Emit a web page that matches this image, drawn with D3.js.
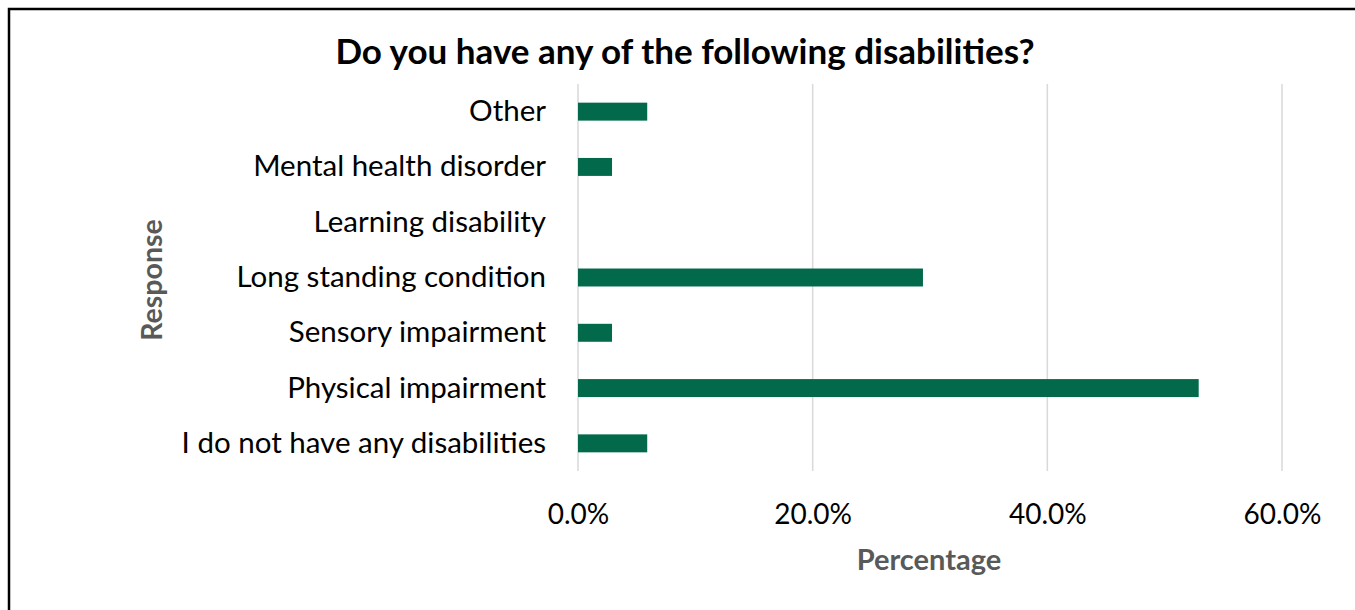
<!DOCTYPE html>
<html>
<head>
<meta charset="utf-8">
<script src="https://cdn.jsdelivr.net/npm/d3@7"></script>
<style>
  body { margin: 0; background: #fff; }
  text { font-family: Lato, "Noto Sans", sans-serif; }
</style>
</head>
<body>
<div id="chart"></div>
<script>
// answers, top row first
var categories = [
  "Other",
  "Mental health disorder",
  "Learning disability",
  "Long standing condition",
  "Sensory impairment",
  "Physical impairment",
  "I do not have any disabilities",
];
var percents = [5.9, 2.9, 0, 29.4, 2.9, 52.9, 5.9];
var x_ticks = [0, 20, 40, 60];

var width = 1355, height = 610;

var svg = d3.select("#chart").append("svg")
  .attr("width", width)
  .attr("height", height);

// outer frame (right and bottom run off the picture)
svg.append("rect")
  .attr("x", 9).attr("y", 9)
  .attr("width", 1360).attr("height", 620)
  .attr("fill", "none").attr("stroke", "#000").attr("stroke-width", 2.5);

var x = d3.scaleLinear().domain([0, 60]).range([578, 1282]);
var y = d3.scaleBand().domain(categories).range([84, 471])
  .paddingInner(0.675).paddingOuter(0.3375);

// gridlines
svg.append("g")
  .selectAll("line")
  .data(x_ticks)
  .enter()
  .append("line")
  .attr("x1", (d) => x(d)).attr("x2", (d) => x(d))
  .attr("y1", 84).attr("y2", 471)
  .attr("stroke", "#d9d9d9").attr("stroke-width", 1.5);

// bars
svg.append("g")
  .selectAll("rect")
  .data(percents)
  .enter()
  .append("rect")
  .attr("x", x(0))
  .attr("y", (d, i) => y(categories[i]))
  .attr("width", (d) => x(d) - x(0))
  .attr("height", y.bandwidth())
  .attr("fill", "#026a4a");

// category labels
var yAxis = svg.append("g")
  .attr("transform", "translate(" + (x(0) - 6) + ",0)")
  .call(d3.axisLeft(y).tickSize(0).tickPadding(26));
yAxis.select(".domain").remove();
yAxis.selectAll("text")
  .attr("fill", "#000")
  .style("font-size", "29.5px")
  .style("font-family", "Lato, 'Noto Sans', sans-serif");

// tick labels
var xAxis = svg.append("g")
  .attr("transform", "translate(0,471)")
  .call(d3.axisBottom(x).tickValues(x_ticks).tickSize(0).tickPadding(33)
    .tickFormat((d) => d.toFixed(1) + "%"));
xAxis.select(".domain").remove();
xAxis.selectAll("text")
  .attr("fill", "#000")
  .style("font-size", "28px")
  .style("font-family", "Lato, 'Noto Sans', sans-serif");

// title
svg.append("text")
  .attr("x", 685).attr("y", 64)
  .attr("text-anchor", "middle")
  .style("font-size", "35px").style("font-weight", "bold")
  .text("Do you have any of the following disabilities?");

// axis titles
svg.append("text")
  .attr("x", 929).attr("y", 570)
  .attr("text-anchor", "middle")
  .attr("fill", "#595959")
  .style("font-size", "29px").style("font-weight", "bold")
  .text("Percentage");

svg.append("text")
  .attr("transform", "translate(162,280) rotate(-90)")
  .attr("text-anchor", "middle")
  .attr("fill", "#595959")
  .style("font-size", "28.5px").style("font-weight", "bold")
  .text("Response");
</script>
</body>
</html>
